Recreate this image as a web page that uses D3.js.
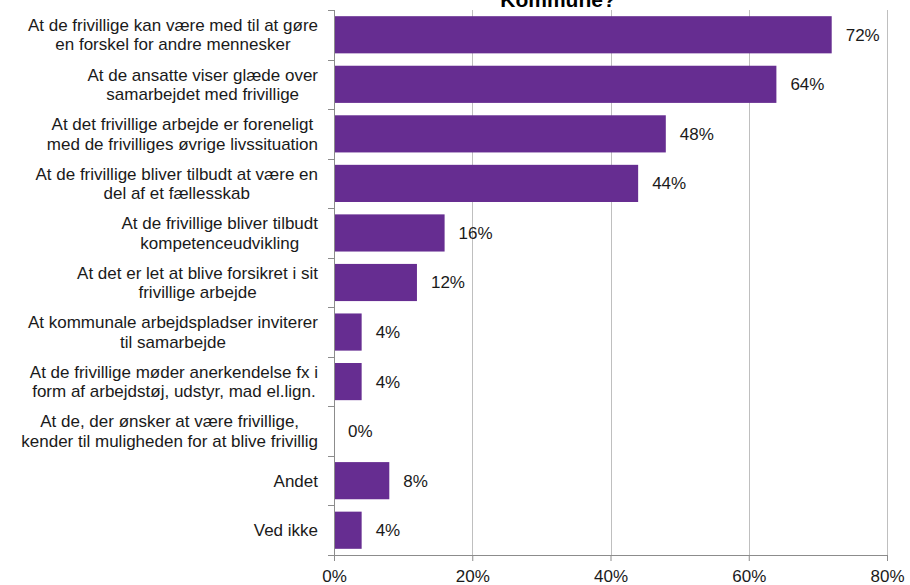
<!DOCTYPE html>
<html>
<head>
<meta charset="utf-8">
<script src="https://cdn.jsdelivr.net/npm/d3@7"></script>
<style>
  html, body { margin: 0; padding: 0; background: #fff; }
  svg { display: block; font-family: "Liberation Sans", Arial, sans-serif; }
</style>
</head>
<body>
<svg id="chart" width="910" height="585"></svg>
<script>
// Answer categories (line breaks as wrapped in the label column)
const categories = [
  "At de frivillige kan være med til at gøre\nen forskel for andre mennesker",
  "At de ansatte viser glæde over\nsamarbejdet med frivillige",
  "At det frivillige arbejde er foreneligt\nmed de frivilliges øvrige livssituation",
  "At de frivillige bliver tilbudt at være en\ndel af et fællesskab",
  "At de frivillige bliver tilbudt\nkompetenceudvikling",
  "At det er let at blive forsikret i sit\nfrivillige arbejde",
  "At kommunale arbejdspladser inviterer\ntil samarbejde",
  "At de frivillige møder anerkendelse fx i\nform af arbejdstøj, udstyr, mad el.lign.",
  "At de, der ønsker at være frivillige,\nkender til muligheden for at blive frivillig",
  "Andet",
  "Ved ikke"
];

// Share of respondents, percent
const values = [72, 64, 48, 44, 16, 12, 4, 4, 0, 8, 4];

// Axis ticks, percent
const xTicks = [0, 20, 40, 60, 80];

const title = "Kommune?";

(function draw() {
  const svg = d3.select("#chart");
  const pLeft = 334, pRight = 887, pTop = 10, pBottom = 555;
  const textColor = "#1a1a1a";

  const x = d3.scaleLinear().domain([0, 80]).range([pLeft, pRight]);
  const y = d3.scaleBand().domain(categories).range([pTop, pBottom])
    .paddingInner(0.25).paddingOuter(0.125);

  // Title (its upper part falls outside the frame)
  svg.append("text")
    .attr("x", 558).attr("y", 7)
    .attr("text-anchor", "middle")
    .attr("font-size", 21).attr("font-weight", "bold")
    .attr("fill", "#000")
    .text(title);

  // Vertical gridlines
  svg.append("g").selectAll("line")
    .data(xTicks.filter(d => d > 0))
    .join("line")
    .attr("x1", d => Math.round(x(d)) + 0.5).attr("x2", d => Math.round(x(d)) + 0.5)
    .attr("y1", pTop).attr("y2", pBottom)
    .attr("stroke", "#bfbfbf").attr("stroke-width", 1);

  // Bars
  svg.append("g").selectAll("rect")
    .data(categories)
    .join("rect")
    .attr("x", x(0))
    .attr("y", d => y(d))
    .attr("width", (d, i) => x(values[i]) - x(0))
    .attr("height", y.bandwidth())
    .attr("fill", "#662d91");

  // Bottom axis
  const xAxis = d3.axisBottom(x)
    .tickValues(xTicks)
    .tickFormat(d => d + "%")
    .tickSize(6)
    .tickSizeOuter(0)
    .tickPadding(9);
  const gx = svg.append("g")
    .attr("transform", `translate(0,${pBottom})`)
    .call(xAxis);
  gx.select(".domain").attr("stroke", "#8c8c8c");
  gx.selectAll(".tick line").attr("stroke", "#8c8c8c");
  gx.selectAll(".tick text")
    .attr("font-size", 17).attr("fill", textColor)
    .attr("font-family", "Liberation Sans, Arial, sans-serif");

  // Left axis: line plus ticks at category boundaries
  const step = y.step();
  const boundaries = d3.range(categories.length + 1).map(i => pTop + i * step);
  const gy = svg.append("g");
  gy.append("line")
    .attr("x1", pLeft + 0.5).attr("x2", pLeft + 0.5)
    .attr("y1", pTop).attr("y2", pBottom)
    .attr("stroke", "#8c8c8c");
  gy.selectAll("line.tk")
    .data(boundaries)
    .join("line").attr("class", "tk")
    .attr("x1", pLeft - 6).attr("x2", pLeft)
    .attr("y1", d => Math.round(d) + 0.5).attr("y2", d => Math.round(d) + 0.5)
    .attr("stroke", "#8c8c8c");

  // Category labels: lines centred within a block right-aligned to the axis
  const labelRight = 318, lineH = 19.5, fs = 17;
  const lg = svg.append("g");
  categories.forEach(cat => {
    const lines = cat.split("\n");
    const cy = y(cat) + y.bandwidth() / 2;
    const t = lg.append("text")
      .attr("font-size", fs).attr("fill", textColor)
      .attr("text-anchor", "middle");
    const spans = lines.map((ln, i) => t.append("tspan")
      .attr("y", cy + (i - (lines.length - 1) / 2) * lineH)
      .attr("dy", "0.35em")
      .text(ln));
    const w = d3.max(spans, s => s.node().getComputedTextLength());
    spans.forEach(s => s.attr("x", labelRight - w / 2));
  });

  // Value labels
  svg.append("g").selectAll("text")
    .data(categories)
    .join("text")
    .attr("x", (d, i) => x(values[i]) + 14)
    .attr("y", d => y(d) + y.bandwidth() / 2)
    .attr("dy", "0.35em")
    .attr("font-size", 17).attr("fill", textColor)
    .text((d, i) => values[i] + "%");
})();
</script>
</body>
</html>
